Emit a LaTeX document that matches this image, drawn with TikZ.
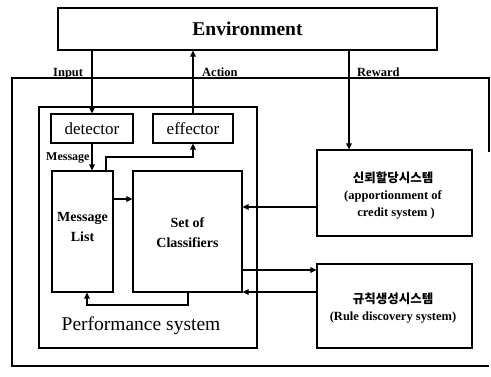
\documentclass[tikz,border=0pt]{standalone}
\usepackage{fontspec}
\setmainfont{Liberation Serif}
\newfontfamily\krfont{Noto Sans CJK KR}
\usetikzlibrary{arrows.meta}
\tikzset{
  box/.style={draw, line width=1.1pt, inner sep=0pt, fill=white},
  link/.style={line width=1.1pt},
  arr/.style={link, -{Triangle[length=6pt,width=5.5pt]}},
  tag/.style={font=\bfseries\fontsize{12.5}{14}\selectfont, inner sep=0pt},
}
\begin{document}
\begin{tikzpicture}[x=1pt,y=-1pt]
\useasboundingbox (0,0) rectangle (491,376);
\fill[white] (0,0) rectangle (491,376);

% outer frame of the learning classifier system
\draw[link] (489,152) -- (489,78) -- (12,78) -- (12,366) -- (489,366);

% environment
\node[box, minimum width=379pt, minimum height=42pt,
      font=\bfseries\fontsize{19.5}{22}\selectfont] (env) at (247.5,29) {Environment};

% performance system and its parts
\node[box, minimum width=218pt, minimum height=241pt] (perf) at (148,227.5) {};
\node[font=\fontsize{19.5}{22}\selectfont, inner sep=0pt] (perflabel) at (141,326) {Performance system};

\node[box, minimum width=82pt, minimum height=29pt,
      font=\fontsize{17}{19}\selectfont] (det) at (92,128.5) {detector};
\node[box, minimum width=80pt, minimum height=29pt,
      font=\fontsize{17}{19}\selectfont] (eff) at (193,128.5) {effector};
\node[box, minimum width=61pt, minimum height=121pt] (msg) at (82.5,231.5) {};
\node[font=\bfseries\fontsize{14}{20}\selectfont, align=center] (msgtext) at (82.5,227) {Message\\List};
\node[box, minimum width=109pt, minimum height=121pt] (cls) at (187.5,231.5) {};
\node[font=\bfseries\fontsize{14}{20}\selectfont, align=center] (clstext) at (187.5,233) {Set of\\Classifiers};

% credit assignment and rule discovery
\node[box, minimum width=155pt, minimum height=86pt] (credit) at (394.5,193) {};
\node[font=\bfseries\fontsize{12.5}{17}\selectfont, align=center] (credittext) at (393,195.5)
  {{\krfont\bfseries 신뢰할당시스템}\\(apportionment of\\ \ \ credit system )};
\node[box, minimum width=155pt, minimum height=84pt] (rule) at (394.5,306) {};
\node[font=\bfseries\fontsize{12.5}{17}\selectfont, align=center] (ruletext) at (393,308)
  {{\krfont\bfseries 규칙생성시스템}\\(Rule discovery system)};

% signal labels
\node[tag, anchor=base west] (lin) at (53,76) {Input};
\node[tag, anchor=base west] (lact) at (202,76) {Action};
\node[tag, anchor=base west] (lrew) at (357,76) {Reward};
\node[font=\bfseries\fontsize{12}{14}\selectfont, inner sep=0pt, anchor=base west] (lmsg) at (46,160) {Message};

% connectors
\draw[arr] (env.south -| det.north) -- (det.north);
\draw[arr] (eff.north) -- (env.south -| eff.north);
\coordinate (rewtop) at (349,50);
\draw[arr] (rewtop) -- (rewtop |- credit.north);
\draw[arr] (det.south) -- (msg.north -| det.south);

\coordinate (m1) at (106,171);
\coordinate (m2) at (106,157);
\draw[arr] (m1) -- (m2) -- (m2 -| eff.south) -- (eff.south);

\coordinate (mc) at (113,199);
\draw[arr] (mc) -- (mc -| cls.west);

\coordinate (c1) at (188,292);
\coordinate (c2) at (188,305);
\coordinate (c3) at (87,305);
\draw[arr] (c1) -- (c2) -- (c3) -- (c3 |- msg.south);

\coordinate (k1) at (317,207);
\draw[arr] (k1) -- (k1 -| cls.east);
\coordinate (r1) at (242,270);
\draw[arr] (r1) -- (r1 -| rule.west);
\coordinate (r2) at (317,292);
\draw[arr] (r2) -- (r2 -| cls.east);
\end{tikzpicture}
\end{document}
